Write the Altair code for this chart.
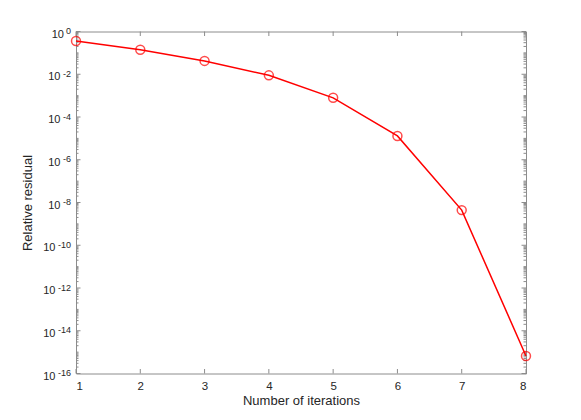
import altair as alt
import pandas as pd

iterations = [1, 2, 3, 4, 5, 6, 7, 8]
residuals = [0.36, 0.14, 0.042, 8.9e-3, 7.9e-4, 1.3e-5, 4.4e-9, 6.6e-16]

x_tick_values = [1, 2, 3, 4, 5, 6, 7, 8]
y_tick_values = [1e0, 1e-2, 1e-4, 1e-6, 1e-8, 1e-10, 1e-12, 1e-14, 1e-16]
y_label_base = "10"
y_label_exponents = ["0", "-2", "-4", "-6", "-8", "-10", "-12", "-14", "-16"]
decade_exponents = list(range(0, -17, -1))
minor_multipliers = [2, 3, 4, 5, 6, 7, 8, 9]

W, H = 450, 342
AX = "#8c8c8c"
TXT = "#262626"
RED = "#ff0000"
FONT = "Liberation Sans"
MAJ, MIN = 4.5, 2.5

df = pd.DataFrame({"it": iterations, "res": residuals})
major_df = pd.DataFrame({"v": y_tick_values})
minor_vals = [10.0 ** e for e in decade_exponents if e % 2 != 0]
minor_vals += [m * 10.0 ** e for e in decade_exponents[1:] for m in minor_multipliers]
minor_df = pd.DataFrame({"v": minor_vals})
xt_df = pd.DataFrame({"v": x_tick_values})
lab_df = pd.DataFrame({"v": y_tick_values, "exp": y_label_exponents,
                       "n": [len(e) for e in y_label_exponents], "base": y_label_base})

xs = alt.Scale(domain=[1, 8], nice=False, zero=False)
ys = alt.Scale(type="log", domain=[1e-16, 1], nice=False)

xaxis = alt.Axis(values=x_tick_values, title="Number of iterations", ticks=False, domain=False,
                 grid=False, labelPadding=7, format="d", titlePadding=2, labelFontSize=11.5)
yaxis = alt.Axis(values=y_tick_values, labels=False, title="Relative residual",
                 ticks=False, domain=False, grid=False, titlePadding=42)

xenc = alt.X("it:Q", scale=xs, axis=xaxis)
yenc = alt.Y("res:Q", scale=ys, axis=yaxis)

line = alt.Chart(df).mark_line(color=RED, strokeWidth=1.5, clip=False).encode(x=xenc, y=yenc)
points = alt.Chart(df).mark_point(shape="circle", filled=False, color=RED, size=80,
                                  strokeWidth=1.5, clip=False).encode(x=xenc, y=yenc)

yv = alt.Y("v:Q", scale=ys, axis=yaxis)
xv = alt.X("v:Q", scale=xs, axis=xaxis)

def rule(d):
    return alt.Chart(d).mark_rule(color=AX, strokeWidth=1)

ticks = [
    rule(major_df).encode(y=yv, x=alt.value(0), x2=alt.value(MAJ)),
    rule(major_df).encode(y=yv, x=alt.value(W), x2=alt.value(W - MAJ)),
    rule(minor_df).encode(y=yv, x=alt.value(0), x2=alt.value(MIN)),
    rule(minor_df).encode(y=yv, x=alt.value(W), x2=alt.value(W - MIN)),
    rule(xt_df).encode(x=xv, y=alt.value(H), y2=alt.value(H - MAJ)),
    rule(xt_df).encode(x=xv, y=alt.value(0), y2=alt.value(MAJ)),
]

exp_text = alt.Chart(lab_df).mark_text(align="right", baseline="alphabetic", fontSize=9,
                                       font=FONT, color=TXT, dy=2.5).encode(
    y=yv, x=alt.value(-5), text="exp:N")

base_x = {1: -12, 2: -15.5, 3: -20.5}
base_texts = [
    alt.Chart(lab_df).transform_filter(alt.datum.n == n).mark_text(
        align="right", baseline="alphabetic", fontSize=11, font=FONT, color=TXT, dy=6
    ).encode(y=yv, x=alt.value(px), text="base:N")
    for n, px in base_x.items()
]

chart = alt.layer(*ticks, line, points, exp_text, *base_texts).properties(
    width=W, height=H,
    padding={"left": 68, "top": 23.5, "right": 40, "bottom": 40},
    autosize=alt.AutoSizeParams(type="none"),
).configure_view(stroke=AX, strokeWidth=1).configure_axis(
    labelFont=FONT, titleFont=FONT,
    labelColor=TXT, titleColor=TXT, labelFontSize=11, titleFontSize=13,
    titleFontWeight="normal",
)

chart.save("out.html", embed_options={"renderer": "svg", "actions": False})
